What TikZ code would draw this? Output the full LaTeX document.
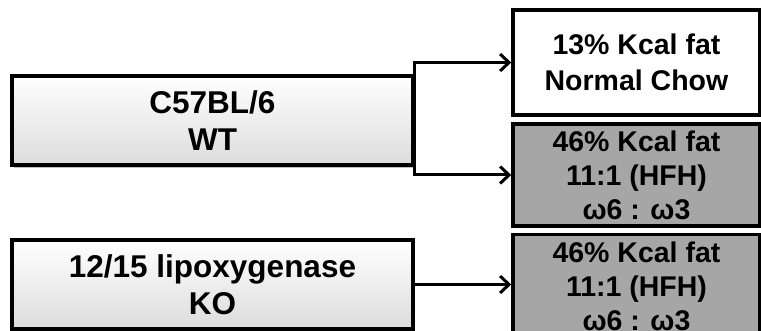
\documentclass[tikz,border=0pt]{standalone}
\usepackage{fontspec}
\setmainfont{Liberation Sans}
\usetikzlibrary{arrows.meta,shadows}
\definecolor{hfhgray}{HTML}{A6A6A6}
\definecolor{lgray}{HTML}{DCDCDC}
\tikzset{
  strain/.style={draw=black, line width=3.5pt, minimum width=401pt, minimum height=89pt,
    inner sep=0pt, align=center, font=\bfseries\fontsize{31.5}{37}\selectfont,
    shading=axis, top color=white, bottom color=lgray, shading angle=0,
    drop shadow={shadow xshift=2pt, shadow yshift=-3pt, opacity=0.25, fill=black}},
  diet/.style={draw=black, line width=3.5pt, minimum width=247pt, inner sep=0pt,
    align=center, font=\bfseries\fontsize{28.5}{34}\selectfont},
  arr/.style={line width=3pt, -{Straight Barb[length=9pt,width=17pt,line width=3pt]}}
}
\begin{document}
\begin{tikzpicture}[x=1pt,y=1pt]
\useasboundingbox (0,0) rectangle (761,331);
\clip (0,0) rectangle (761,331);
\node[strain] (wt) at (212.5,210.5) {C57BL/6\\WT};
\node[strain] (ko) at (212.5,46.5) {12/15 lipoxygenase\\KO};
\node[diet, fill=white, minimum height=105pt] (chow) at (636.5,268.5) {13\% Kcal fat\\[2pt]Normal Chow};
\node[diet, fill=hfhgray, minimum height=102pt] (hfh1) at (636.5,156) {46\% Kcal fat\\11:1 (HFH)\\ω6 : ω3};
\node[diet, fill=hfhgray, minimum height=104pt, anchor=north] (hfh2) at (636.5,98) {46\% Kcal fat\\11:1 (HFH)\\ω6 : ω3};
\draw[arr] (wt.east) |- (chow.west);
\draw[arr] (wt.east) |- (hfh1.west);
\draw[arr] (ko.east) -- (ko.east -| hfh2.west);
\end{tikzpicture}
\end{document}
